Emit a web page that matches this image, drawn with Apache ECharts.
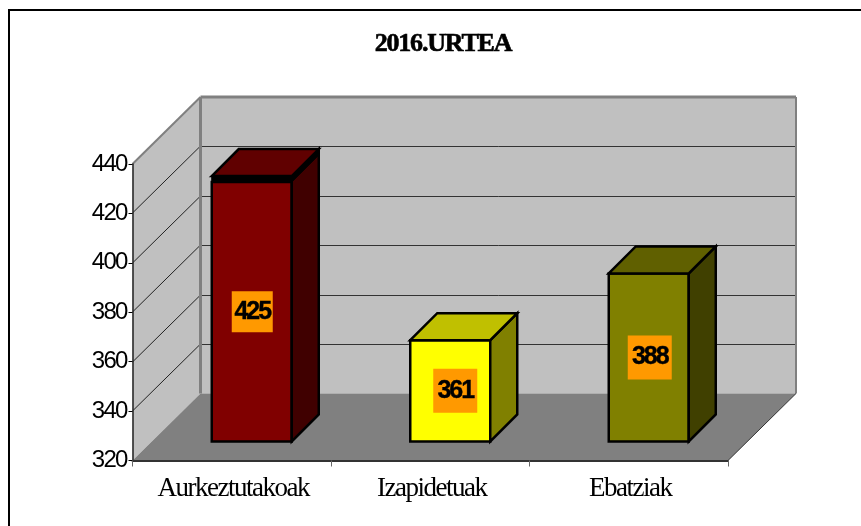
<!DOCTYPE html>
<html>
<head>
<meta charset="utf-8">
<style>
html, body { margin: 0; padding: 0; background: #fff; }
#chart { width: 861px; height: 526px; }
</style>
<script src="https://cdn.jsdelivr.net/npm/echarts@6/dist/echarts.min.js"></script>
</head>
<body>
<div id="chart"></div>
<script>
var chartTitle = '2016.URTEA';
var categories = ['Aurkeztutakoak', 'Izapidetuak', 'Ebatziak'];
var values = [425, 361, 388];
var yTicks = [320, 340, 360, 380, 400, 420, 440];

var faceColors = ['#800000', '#ffff00', '#808000'];
var topColors = ['#600000', '#c0c000', '#606000'];
var sideColors = ['#400000', '#808000', '#404000'];

// the 3d look: how far the back wall and the bars go into the picture
var wallDepthX = 68;
var wallDepthY = 67;
var barFrontX = 20;
var barFrontY = 19;
var barDepth = 27;
var barWidth = 80;
var rimHeight = 6; // only the first bar has the black rim under its top

// the orange boxes are not the same size or quite centred in the original
var labelBoxes = [41, 44, 44];
var labelShifts = [0.5, 5, 1];

// original text is set tighter than the font wants
var getSpacing = function (font) {
    var bold = font.indexOf('bold') > -1;
    if (font.indexOf('Liberation Sans') > -1) {
        return bold ? '-2px' : '-1.8px';
    }
    return bold ? '-1.2px' : '-1.5px';
};
['fillText', 'strokeText'].forEach(function (name) {
    var base = CanvasRenderingContext2D.prototype[name];
    CanvasRenderingContext2D.prototype[name] = function (text, x, y) {
        this.letterSpacing = getSpacing(this.font);
        base.call(this, text, x, y);
    };
});

var polygon = function (points, fill, stroke, lineWidth) {
    return {
        type: 'polygon',
        shape: { points: points },
        style: { fill: fill, stroke: stroke || null, lineWidth: lineWidth || 0, lineJoin: 'miter' }
    };
};

var line = function (x1, y1, x2, y2, color, width) {
    return {
        type: 'line',
        shape: { x1: x1, y1: y1, x2: x2, y2: y2 },
        style: { stroke: color, lineWidth: width }
    };
};

var renderWalls = function (params, api) {
    var left = params.coordSys.x;
    var right = left + params.coordSys.width;
    var bottom = api.coord([0, yTicks[0]])[1];
    var top = api.coord([0, yTicks[yTicks.length - 1]])[1];
    var dx = wallDepthX;
    var dy = wallDepthY;
    var children = [
        polygon([[left, bottom], [left, top], [left + dx, top - dy], [left + dx, bottom - dy]], '#c0c0c0'),
        polygon([[left + dx, top - dy], [right + dx, top - dy], [right + dx, bottom - dy], [left + dx, bottom - dy]], '#c0c0c0'),
        polygon([[left, bottom], [left + dx, bottom - dy], [right + dx, bottom - dy], [right, bottom]], '#808080')
    ];
    yTicks.forEach(function (tick, i) {
        if (i === 0 || i === yTicks.length - 1) {
            return;
        }
        var y = Math.round(api.coord([0, tick])[1]);
        children.push(line(left, y, left + dx, y - dy, '#222', 1));
        children.push(line(left + dx, y - dy + 0.5, right + dx, y - dy + 0.5, '#333', 1));
    });
    children.push(line(left, top, left + dx, top - dy, '#808080', 2));
    children.push(line(left + dx, top - dy, right + dx, top - dy, '#808080', 3));
    children.push(line(left + dx, top - dy, left + dx, bottom - dy, '#808080', 3));
    children.push(line(right + dx, top - dy, right + dx, bottom - dy, '#808080', 2));
    children.push(line(right, bottom, right + dx, bottom - dy, '#333', 1));
    return { type: 'group', children: children };
};

var renderBar = function (params, api) {
    var i = params.dataIndex;
    var point = api.coord([i, api.value(1)]);
    var base = api.coord([i, yTicks[0]]);
    var x0 = point[0] + barFrontX - barWidth / 2;
    var x1 = x0 + barWidth;
    var yTop = point[1] - barFrontY;
    var yBase = base[1] - barFrontY;
    var d = barDepth;
    var rim = i === 0 ? rimHeight : 0;
    var children = [
        polygon([[x0, yTop], [x1, yTop], [x1, yBase], [x0, yBase]], faceColors[i], '#000', 2.5),
        polygon([[x1, yTop - rim], [x1 + d, yTop - rim - d], [x1 + d, yBase - d], [x1, yBase]], sideColors[i], '#000', 2.5)
    ];
    if (rim) {
        children.push(polygon([[x0, yTop], [x0, yTop - rim], [x1 + d, yTop - rim - d], [x1 + d, yTop - d], [x1, yTop]], '#000', '#000', 1));
    }
    children.push(polygon([[x0, yTop - rim], [x0 + d, yTop - rim - d], [x1 + d, yTop - rim - d], [x1, yTop - rim]], topColors[i], '#000', 2.5));
    var cx = (x0 + x1) / 2 + labelShifts[i];
    var cy = (yTop + yBase) / 2;
    var box = labelBoxes[i];
    children.push({
        type: 'rect',
        shape: { x: cx - box / 2, y: cy - box / 2, width: box, height: box },
        style: { fill: '#ff9900' }
    });
    children.push({
        type: 'text',
        style: {
            x: cx,
            y: cy,
            text: String(api.value(1)),
            align: 'center',
            verticalAlign: 'middle',
            fill: '#000',
            stroke: '#000',
            lineWidth: 0.4,
            font: 'bold 25px "Liberation Sans"'
        }
    });
    return { type: 'group', children: children };
};

var chart = echarts.init(document.getElementById('chart'));
chart.setOption({
    animation: false,
    backgroundColor: '#fff',
    title: {
        text: chartTitle,
        left: 438,
        top: 26,
        textAlign: 'center',
        textStyle: {
            fontFamily: 'Liberation Serif',
            fontSize: 26,
            fontWeight: 'bold',
            color: '#000',
            textBorderColor: '#000',
            textBorderWidth: 0.6
        }
    },
    graphic: [{
        type: 'polyline',
        silent: true,
        shape: { points: [[9, 526], [9, 10], [861, 10]] },
        style: { fill: null, stroke: '#000', lineWidth: 2 }
    }],
    grid: { left: 132.5, right: 133, top: 164, bottom: 65.5 },
    xAxis: {
        type: 'category',
        data: categories,
        z: 5,
        axisLine: { lineStyle: { color: '#333', width: 2 } },
        axisTick: { show: true, length: 6, lineStyle: { color: '#666', width: 1 } },
        axisLabel: { color: '#000', fontFamily: 'Liberation Serif', fontSize: 27, margin: 15, interval: 0, padding: [0, 0, 0, 3] }
    },
    yAxis: {
        type: 'value',
        min: 320,
        max: 440,
        interval: 20,
        z: 5,
        splitLine: { show: false },
        axisLine: { show: true, lineStyle: { color: '#222', width: 1.5 } },
        axisTick: { show: true, length: 4, lineStyle: { color: '#000', width: 1 } },
        axisLabel: { color: '#000', fontFamily: 'Liberation Sans', fontSize: 24, margin: 6 }
    },
    series: [{
        type: 'custom',
        name: 'walls',
        z: 1,
        silent: true,
        data: [[0, yTicks[0]]],
        renderItem: renderWalls
    }, {
        type: 'custom',
        name: 'bars',
        z: 2,
        silent: true,
        encode: { x: 0, y: 1 },
        data: values.map(function (v, i) { return [i, v]; }),
        renderItem: renderBar
    }]
});
</script>
</body>
</html>
